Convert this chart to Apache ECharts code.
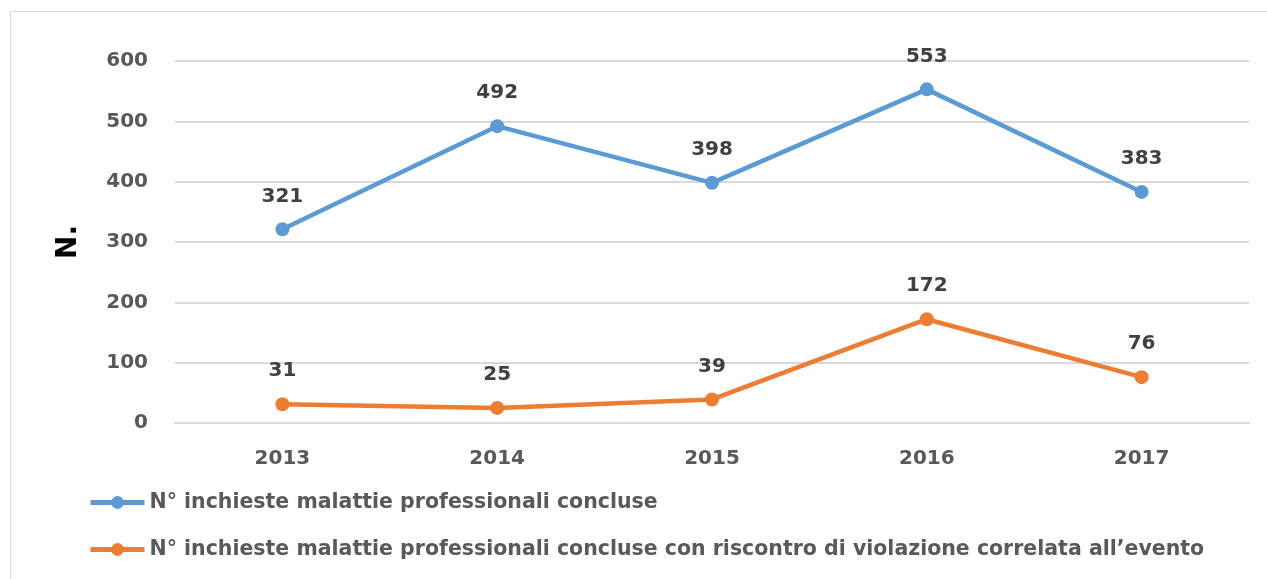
<!DOCTYPE html>
<html>
<head>
<meta charset="utf-8">
<script src="https://cdn.jsdelivr.net/npm/echarts@6/dist/echarts.min.js"></script>
<style>
html, body { margin: 0; padding: 0; background: #fff; }
#chart { width: 1267px; height: 579px; }
</style>
</head>
<body>
<div id="chart"></div>
<script>
var years = ['2013', '2014', '2015', '2016', '2017'];
var inchiesteConcluse = [321, 492, 398, 553, 383];
var inchiesteViolazione = [31, 25, 39, 172, 76];
var seriesNames = [
	'N° inchieste malattie professionali concluse',
	'N° inchieste malattie professionali concluse con riscontro di violazione correlata all\u2019evento'
];

var labelStyle = {
	show: true,
	position: 'top',
	distance: 16,
	fontSize: 20,
	fontWeight: 'bold',
	fontFamily: 'DejaVu Sans',
	color: '#404040'
};

var option = {
	animation: false,
	backgroundColor: '#fff',
	color: ['#5B9BD5', '#ED7D31'],
	graphic: [{
		type: 'rect',
		shape: { x: 10.5, y: 11.5, width: 1300, height: 700 },
		style: { fill: 'none', stroke: '#d9d9d9', lineWidth: 1 },
		silent: true
	}],
	grid: {
		left: 175,
		right: 18,
		top: 61,
		bottom: 156
	},
	legend: {
		orient: 'vertical',
		left: 83,
		top: 487,
		itemWidth: 54,
		itemHeight: 16,
		itemGap: 26,
		lineStyle: { width: 5 },
		textStyle: {
			fontSize: 20.5,
			fontWeight: 'bold',
			fontFamily: 'DejaVu Sans',
			color: '#595959'
		},
		data: seriesNames
	},
	xAxis: {
		type: 'category',
		data: years,
		boundaryGap: true,
		axisLine: { lineStyle: { color: '#d9d9d9', width: 2 } },
		axisTick: { show: false },
		axisLabel: {
			margin: 26,
			fontSize: 20,
			fontWeight: 'bold',
			fontFamily: 'DejaVu Sans',
			color: '#595959'
		}
	},
	yAxis: {
		type: 'value',
		min: 0,
		max: 600,
		interval: 100,
		name: 'N.',
		nameLocation: 'middle',
		nameGap: 92,
		nameTextStyle: {
			fontSize: 28,
			fontWeight: 'bold',
			fontFamily: 'DejaVu Sans',
			color: '#000'
		},
		axisLine: { show: false },
		axisTick: { show: false },
		splitLine: { lineStyle: { color: '#d9d9d9', width: 2 } },
		axisLabel: {
			margin: 27,
			fontSize: 20,
			fontWeight: 'bold',
			fontFamily: 'DejaVu Sans',
			color: '#595959'
		}
	},
	series: [{
		name: seriesNames[0],
		type: 'line',
		data: inchiesteConcluse,
		symbol: 'circle',
		symbolSize: 14,
		lineStyle: { width: 4.5 },
		label: labelStyle
	}, {
		name: seriesNames[1],
		type: 'line',
		data: inchiesteViolazione,
		symbol: 'circle',
		symbolSize: 14,
		lineStyle: { width: 4.5 },
		label: labelStyle
	}]
};

var chart = echarts.init(document.getElementById('chart'));
chart.setOption(option);
</script>
</body>
</html>
